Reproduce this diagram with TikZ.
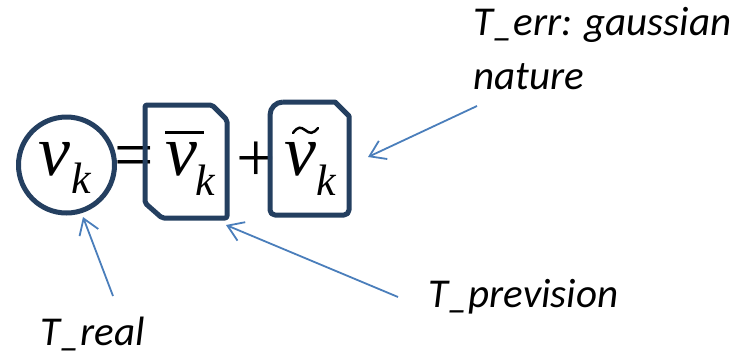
\documentclass[tikz,border=0pt]{standalone}
\usepackage{fontspec}
\usetikzlibrary{arrows.meta}
\newfontfamily\labelfont{Carlito}
\newfontfamily\eqfont{Liberation Serif}[ItalicFont={Liberation Serif Italic}]
\definecolor{frame}{HTML}{243F60}
\definecolor{arrowblue}{HTML}{4A7EBB}
\tikzset{
  frameline/.style={draw=frame, line width=5pt, line join=round},
  pointer/.style={draw=arrowblue, line width=1.8pt, -{Straight Barb[length=15pt,width=20pt,line width=1.8pt]}},
  lbl/.style={font=\labelfont\itshape\fontsize{41}{48}\selectfont, anchor=base west, inner sep=0pt},
  vsym/.style={font=\eqfont\itshape\fontsize{72}{80}\selectfont, anchor=base, inner sep=0pt},
  ksym/.style={font=\eqfont\itshape\fontsize{44}{50}\selectfont, anchor=base, inner sep=0pt},
  opsym/.style={font=\eqfont\fontsize{70}{80}\selectfont, anchor=base, inner sep=0pt}
}
\begin{document}
\begin{tikzpicture}[x=1pt,y=-1pt]
\useasboundingbox (0,0) rectangle (739,354);
% circle
\node[frameline, circle, minimum size=96pt, inner sep=0pt] (real) at (66.5,165) {};
\node[vsym] (v1) at (54.5,175) {v};
\node[ksym] (k1) at (81,193) {k};
% equals and plus
\node[opsym] (eq) at (134,178) {=};
\node[opsym] (plus) at (256,181) {+};
% box 1 (prevision)
\draw[frameline, rounded corners=2pt] (145,105) -- (212,105) -- (227,120) -- (227,218) -- (162,218) -- (145,203) -- cycle;
\coordinate (prevbox) at (186,161.5);
\node[vsym] (v2) at (181.5,175) {v};
\node[ksym] (k2) at (205,195) {k};
\draw[black, line width=3pt] (165,132) -- (204,132);
% box 2 (error)
\draw[frameline] (283,102) -- (335,102) -- (349,116) [rounded corners=5pt] -- (349,215) -- (270,215) [rounded corners=13pt] -- (270,102) -- (283,102);
\node[vsym] (v3) at (300,175) {v};
\node[ksym] (k3) at (326,195) {k};
\draw[black, line width=2.5pt, line cap=round] (293,133) .. controls (298,126) and (301,127) .. (305,130) .. controls (310,134) and (313,134) .. (318,128);
% labels
\node[lbl] (treal) at (40,345) {T\_real};
\node[lbl] (tprev) at (428,307) {T\_prevision};
\node[lbl] (terr) at (473,35) {T\_err: gaussian};
\node[lbl] (terr2) at (473,89) {nature};
% arrows
\coordinate (realstart) at (113,296);
\coordinate (realtip) at (83,217);
\coordinate (prevstart) at (398,297);
\coordinate (prevtip) at (226,225);
\coordinate (errstart) at (477,106);
\coordinate (errtip) at (368,157);
\draw[pointer] (realstart) -- (realtip);
\draw[pointer] (prevstart) -- (prevtip);
\draw[pointer] (errstart) -- (errtip);
\end{tikzpicture}
\end{document}
